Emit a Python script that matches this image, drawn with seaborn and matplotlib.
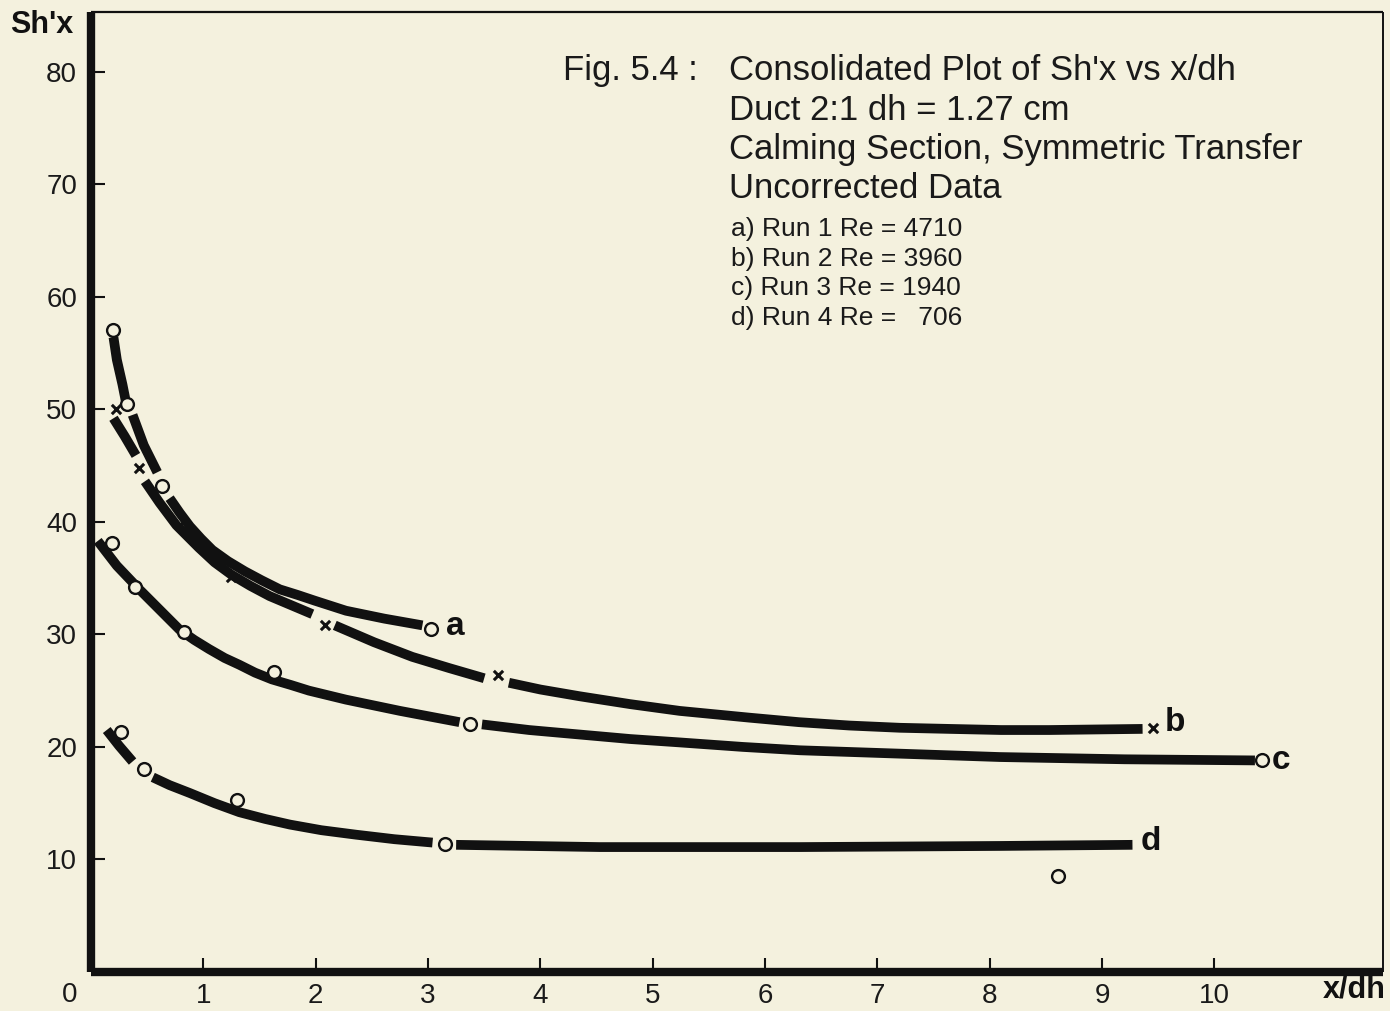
import matplotlib
matplotlib.use("Agg")
import matplotlib.pyplot as plt
import numpy as np
import pandas as pd
import seaborn as sns

# ---- measured points (x/dh, Sh'x) ----
a_x = [0.20, 0.32, 0.63, 3.03]
a_y = [57.0, 50.5, 43.2, 30.5]

b_x = [0.22, 0.43, 0.79, 1.25, 2.08, 3.62, 9.45]
b_y = [50.0, 44.8, 39.7, 35.1, 30.8, 26.4, 21.7]

c_x = [0.19, 0.39, 0.83, 1.63, 3.37, 10.42]
c_y = [38.1, 34.2, 30.2, 26.7, 22.0, 18.8]

d_x = [0.27, 0.47, 1.30, 3.15, 8.61]
d_y = [21.3, 18.0, 15.3, 11.4, 8.5]

# ---- hand-drawn smoothing curves; segment ids mark the breaks around symbols ----
curve_a_x = [0.20, 0.23, 0.28, 0.31,
             0.37, 0.47, 0.59,
             0.70, 0.79, 0.88, 0.98, 1.08, 1.22, 1.37, 1.52, 1.68, 1.84, 1.99, 2.27, 2.61, 2.95]
curve_a_y = [56.4, 54.4, 52.2, 50.7,
             49.5, 46.8, 44.4,
             42.1, 40.8, 39.6, 38.5, 37.5, 36.5, 35.6, 34.8, 34.0, 33.5, 33.0, 32.1, 31.4, 30.8]
curve_a_seg = [0, 0, 0, 0, 1, 1, 1] + [2] * 14

curve_b_x = [0.20, 0.30, 0.40,
             0.48, 0.61, 0.76, 0.96, 1.10, 1.25, 1.42, 1.59, 1.78, 1.97,
             2.17, 2.52, 2.86, 3.19, 3.50,
             3.72, 4.00, 4.35, 4.80, 5.24, 5.86, 6.30, 6.75, 7.20, 7.64, 8.10, 8.53, 9.36]
curve_b_y = [49.2, 47.6, 45.9,
             43.6, 41.7, 39.7, 37.7, 36.4, 35.3, 34.3, 33.4, 32.6, 31.8,
             30.8, 29.3, 28.0, 27.0, 26.1,
             25.7, 25.1, 24.5, 23.8, 23.2, 22.6, 22.2, 21.9, 21.7, 21.6, 21.5, 21.5, 21.6]
curve_b_seg = [0] * 3 + [1] * 10 + [2] * 5 + [3] * 13

curve_c_x = [0.06, 0.23, 0.43, 0.61, 0.79, 0.92, 1.05, 1.19, 1.32, 1.46, 1.61, 1.78,
             1.94, 2.27, 2.75, 3.28,
             3.48, 3.90, 4.35, 4.80, 5.24, 5.80, 6.31, 7.20, 8.09, 9.20, 10.36]
curve_c_y = [38.3, 36.1, 34.0, 32.2, 30.4, 29.5, 28.7, 27.9, 27.3, 26.6, 26.0, 25.5,
             25.0, 24.2, 23.2, 22.2,
             22.0, 21.5, 21.1, 20.7, 20.4, 20.0, 19.7, 19.4, 19.1, 18.9, 18.8]
curve_c_seg = [0] * 16 + [1] * 11

curve_d_x = [0.14, 0.25, 0.37,
             0.55, 0.70, 0.88, 1.10, 1.32, 1.55, 1.77, 2.05, 2.36, 2.70, 3.04,
             3.25, 4.53, 6.31, 8.09, 9.27]
curve_d_y = [21.5, 20.1, 18.7,
             17.3, 16.6, 15.9, 15.0, 14.2, 13.6, 13.1, 12.6, 12.2, 11.8, 11.5,
             11.3, 11.1, 11.1, 11.2, 11.3]
curve_d_seg = [0] * 3 + [1] * 11 + [2] * 5

curve_names = ["a", "b", "c", "d"]
label_x = [3.16, 9.56, 10.51, 9.34]
label_y = [30.7, 22.2, 18.8, 11.6]

x_ticks = [1, 2, 3, 4, 5, 6, 7, 8, 9, 10]
y_ticks = [10, 20, 30, 40, 50, 60, 70, 80]

title_lines = ["Consolidated Plot of Sh'x vs x/dh",
               "Duct 2:1 dh = 1.27 cm",
               "Calming Section, Symmetric Transfer",
               "Uncorrected Data"]
run_lines = ["a) Run 1 Re = 4710",
             "b) Run 2 Re = 3960",
             "c) Run 3 Re = 1940",
             "d) Run 4 Re =   706"]

PAPER = "#F4F1DE"
INK = "#111111"

sns.set_theme(style="white")
plt.rcParams["font.family"] = ["Liberation Sans", "DejaVu Sans"]
NARROW = ["Liberation Sans Narrow", "Liberation Sans", "DejaVu Sans"]

W, H = 1390, 1011
fig = plt.figure(figsize=(W / 100, H / 100), dpi=100, facecolor=PAPER)
ax = fig.add_axes([91 / W, 39 / H, (1383 - 91) / W, (972 - 12) / H])
ax.set_facecolor(PAPER)

curves = pd.concat([
    pd.DataFrame({"x": curve_a_x, "y": curve_a_y, "seg": curve_a_seg, "run": "a"}),
    pd.DataFrame({"x": curve_b_x, "y": curve_b_y, "seg": curve_b_seg, "run": "b"}),
    pd.DataFrame({"x": curve_c_x, "y": curve_c_y, "seg": curve_c_seg, "run": "c"}),
    pd.DataFrame({"x": curve_d_x, "y": curve_d_y, "seg": curve_d_seg, "run": "d"}),
], ignore_index=True)
curves["unit"] = curves["run"] + curves["seg"].astype(str)

sns.lineplot(data=curves, x="x", y="y", units="unit", estimator=None, sort=False,
             color=INK, linewidth=7.0, solid_capstyle="butt",
             solid_joinstyle="round", legend=False, ax=ax)

circles = pd.DataFrame({"x": a_x + c_x + d_x, "y": a_y + c_y + d_y})
sns.scatterplot(data=circles, x="x", y="y", marker="o", s=85, facecolor=PAPER,
                edgecolor=INK, linewidth=1.7, zorder=4, ax=ax)
crosses = pd.DataFrame({"x": b_x, "y": b_y})
sns.scatterplot(data=crosses, x="x", y="y", marker="x", s=45, color=INK,
                linewidth=2.2, zorder=4, ax=ax)

for name, lx, ly in zip(curve_names, label_x, label_y):
    ax.text(lx, ly, name, ha="left", va="center", fontsize=24,
            fontweight="bold", color=INK)

ax.set_xlim(0, 11.5)
ax.set_ylim(0, 85.3)
ax.set_xticks(x_ticks)
ax.set_yticks(y_ticks)
ax.set_xticklabels([str(v) for v in x_ticks])
ax.set_yticklabels([str(v) for v in y_ticks])
ax.set_xlabel("")
ax.set_ylabel("")
ax.tick_params(axis="both", direction="in", length=10, width=1.5, color=INK,
               labelsize=20, labelcolor="#1a1a1a")
ax.tick_params(axis="x", pad=8, bottom=True)
ax.tick_params(axis="y", pad=10, left=True)

for side, lw in [("left", 6.0), ("bottom", 6.0), ("top", 1.6), ("right", 1.4)]:
    ax.spines[side].set_visible(True)
    ax.spines[side].set_linewidth(lw)
    ax.spines[side].set_color(INK)
    ax.spines[side].set_capstyle("butt")

# axis captions and origin
fig.text(10 / W, 1 - 25 / H, "Sh'x", ha="left", va="center", fontsize=22,
         fontweight="bold", color=INK)
fig.text(1386 / W, 1 - 990 / H, "x/dh", ha="right", va="center", fontsize=22,
         fontweight="bold", color=INK)
fig.text(70 / W, 1 - 995 / H, "0", ha="center", va="center", fontsize=20,
         color="#1a1a1a")

# figure caption block
fig.text(563 / W, 1 - 80 / H, "Fig. 5.4 :", ha="left", va="baseline",
         fontsize=25, family=NARROW, color="#1a1a1a")
for i, line in enumerate(title_lines):
    fig.text(729 / W, 1 - (80 + 39.5 * i) / H, line, ha="left", va="baseline",
             fontsize=25, family=NARROW, color="#1a1a1a")
for i, line in enumerate(run_lines):
    fig.text(731 / W, 1 - (236 + 29.7 * i) / H, line, ha="left", va="baseline",
             fontsize=19, family=NARROW, color="#1a1a1a")

fig.savefig("out.png", dpi=100, facecolor=PAPER)
